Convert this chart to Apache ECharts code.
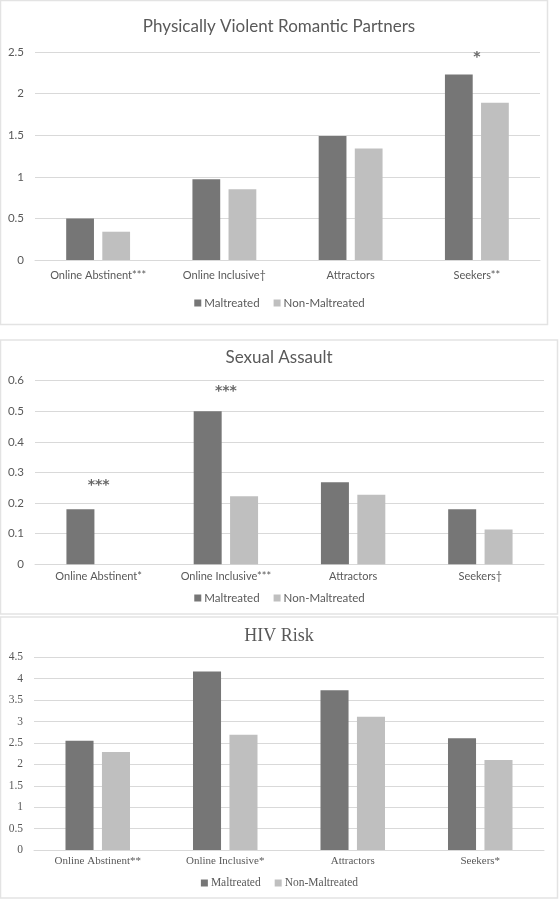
<!DOCTYPE html>
<html>
<head>
<meta charset="utf-8">
<script src="https://cdn.jsdelivr.net/npm/echarts@6/dist/echarts.min.js"></script>
<style>
html,body{margin:0;padding:0;background:#fff;}
#c{width:559px;height:900px;}
</style>
</head>
<body>
<div id="c"></div>
<script>
// ---- data ----
const titles = ['Physically Violent Romantic Partners', 'Sexual Assault', 'HIV Risk'];
const seriesNames = ['Maltreated', 'Non-Maltreated'];
const categoriesPV = ['Online Abstinent***', 'Online Inclusive\u2020', 'Attractors', 'Seekers**'];
const categoriesSA = ['Online Abstinent*', 'Online Inclusive***', 'Attractors', 'Seekers\u2020'];
const categoriesHIV = ['Online Abstinent**', 'Online Inclusive*', 'Attractors', 'Seekers*'];

const maltreatedPV = [0.50, 0.97, 1.49, 2.23];
const nonMaltreatedPV = [0.34, 0.85, 1.34, 1.89];
const maltreatedSA = [0.18, 0.50, 0.268, 0.18];
const nonMaltreatedSA = [0, 0.222, 0.227, 0.114];
const maltreatedHIV = [2.55, 4.17, 3.73, 2.61];
const nonMaltreatedHIV = [2.29, 2.69, 3.11, 2.10];

// significance markers: [category index, value height, text]
const sigPV = [[3, 2.44, '*']];
const sigSA = [[0, 0.257, '***'], [1, 0.566, '***']];

const yMax = [2.5, 0.6, 4.5];
const yStep = [0.5, 0.1, 0.5];

// ---- styling ----
const darkCol = '#767676';
const lightCol = '#bfbfbf';
const textCol = '#595959';
const gridCol = '#d9d9d9';
const sans = 'Lato';
const serif = 'Liberation Serif';

const panels = [
  {cats: categoriesPV, mal: maltreatedPV, non: nonMaltreatedPV, sig: sigPV, font: sans,
   grid: {left: 35, right: 19, top: 52, height: 208}, titleTop: 27, legendTop: 303, labelMargin: 10, titleSize: 17},
  {cats: categoriesSA, mal: maltreatedSA, non: nonMaltreatedSA, sig: sigSA, font: sans,
   grid: {left: 35, right: 15, top: 380.7, height: 183.6}, titleTop: 358, legendTop: 598, labelMargin: 7, titleSize: 17},
  {cats: categoriesHIV, mal: maltreatedHIV, non: nonMaltreatedHIV, sig: [], font: serif,
   grid: {left: 34, right: 15, top: 657.3, height: 192.7}, titleTop: 636, legendTop: 883, labelMargin: 6, titleSize: 18}
];

const option = {
  animation: false,
  backgroundColor: '#fff',
  title: [], legend: [], grid: [], xAxis: [], yAxis: [], series: [],
  graphic: [
    {type: 'rect', shape: {x: 0.5, y: 0.5, width: 547, height: 324}, style: {fill: 'none', stroke: '#e3e3e3', lineWidth: 1.5}, silent: true},
    {type: 'rect', shape: {x: 0.5, y: 340, width: 557, height: 274}, style: {fill: 'none', stroke: '#e3e3e3', lineWidth: 1.5}, silent: true},
    {type: 'rect', shape: {x: 0.5, y: 617, width: 557, height: 281}, style: {fill: 'none', stroke: '#e3e3e3', lineWidth: 1.5}, silent: true}
  ]
};

panels.forEach((p, i) => {
  option.title.push({
    text: titles[i], left: 279, top: p.titleTop, textAlign: 'center', textVerticalAlign: 'middle', padding: 0,
    textStyle: {fontFamily: p.font, fontSize: p.titleSize, fontWeight: 'normal', color: textCol}
  });
  option.legend.push({
    data: seriesNames, left: 'center', top: p.legendTop - 6, padding: 0, itemWidth: 7, itemHeight: 7, itemGap: 14,
    icon: 'rect', textStyle: {fontFamily: p.font, fontSize: 11.5, color: textCol, padding: [0, 0, 0, -2]},
    selectedMode: false
  });
  option.grid.push(Object.assign({containLabel: false}, p.grid));
  option.xAxis.push({
    type: 'category', gridIndex: i, data: p.cats,
    axisLine: {show: true, lineStyle: {color: gridCol}}, axisTick: {show: false},
    axisLabel: {margin: p.labelMargin, fontFamily: p.font, fontSize: 11, color: textCol, interval: 0}
  });
  option.yAxis.push({
    type: 'value', gridIndex: i, min: 0, max: yMax[i], interval: yStep[i],
    axisLine: {show: false}, axisTick: {show: false},
    splitLine: {lineStyle: {color: gridCol}},
    axisLabel: {margin: 11, fontFamily: p.font, fontSize: 11.5, color: textCol}
  });
  option.series.push({
    name: seriesNames[0], type: 'bar', xAxisIndex: i, yAxisIndex: i, data: p.mal,
    barWidth: '22%', barGap: '30%', itemStyle: {color: darkCol}
  });
  option.series.push({
    name: seriesNames[1], type: 'bar', xAxisIndex: i, yAxisIndex: i, data: p.non,
    barWidth: '22%', barGap: '30%', itemStyle: {color: lightCol}
  });
  if (p.sig.length) {
    option.series.push({
      name: 'sig' + i, type: 'scatter', xAxisIndex: i, yAxisIndex: i,
      data: p.sig.map(s => ({value: [s[0], s[1]], name: s[2]})),
      symbolSize: 1, itemStyle: {color: 'rgba(0,0,0,0)'}, silent: true,
      label: {show: true, position: 'inside', formatter: d => d.name, fontFamily: 'DejaVu Sans', fontWeight: 'bold', fontSize: 14, color: '#404040'}
    });
  }
});

const chart = echarts.init(document.getElementById('c'), null, {renderer: 'canvas'});
chart.setOption(option);
</script>
</body>
</html>
